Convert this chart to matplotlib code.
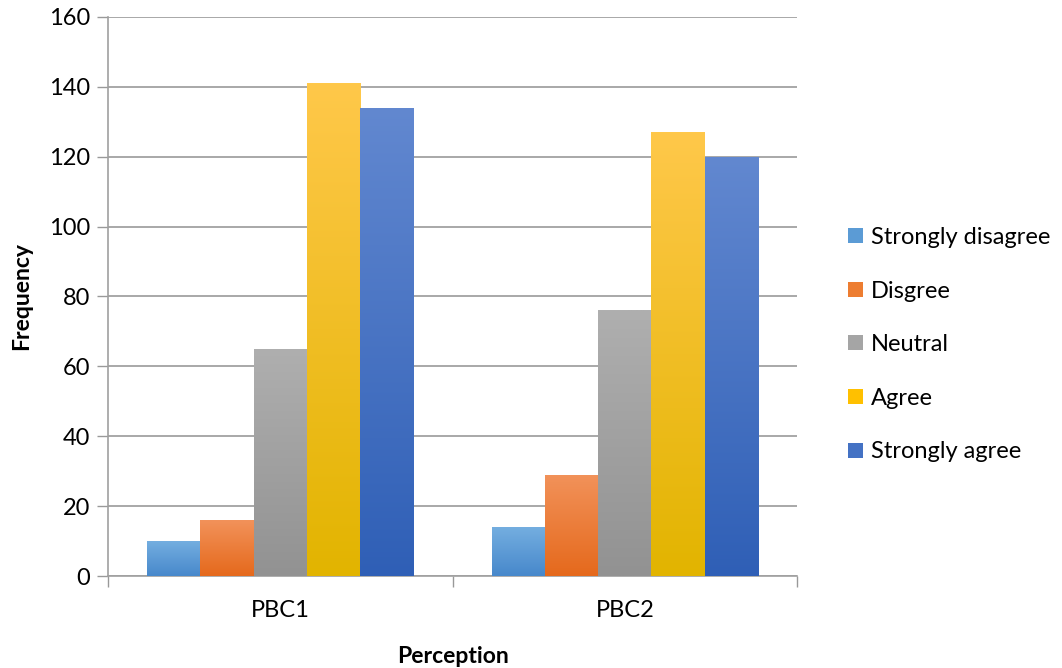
import numpy as np
import matplotlib.pyplot as plt
from matplotlib.colors import LinearSegmentedColormap
from matplotlib.patches import Patch

plt.rcParams['font.family'] = ['Lato', 'DejaVu Sans']

# survey responses per item
items = ['PBC1', 'PBC2']
responses = ['Strongly disagree', 'Disgree', 'Neutral', 'Agree', 'Strongly agree']
strongly_disagree = [10, 14]
disagree = [16, 29]
neutral = [65, 76]
agree = [141, 127]
strongly_agree = [134, 120]
counts = [strongly_disagree, disagree, neutral, agree, strongly_agree]

# (top colour, bottom colour) for each response, legend swatch colour
shades = [('#74aee0', '#4788cb'),
          ('#f2925a', '#e5691c'),
          ('#afafaf', '#929292'),
          ('#ffc84a', '#e2b400'),
          ('#6288d0', '#2f5fb6')]
swatch = ['#5b9bd5', '#ed7d31', '#a5a5a5', '#ffc000', '#4472c4']

fig = plt.figure(figsize=(10.62, 6.68), dpi=100)
ax = fig.add_axes([0.1017, 0.1377, 0.6488, 0.8369])

x = np.arange(len(items))
group = 0.773
width = group / len(responses)

grad = np.linspace(1, 0, 256).reshape(-1, 1)
for i, (name, vals) in enumerate(zip(responses, counts)):
    pos = x - group / 2 + width * (i + 0.5)
    bars = ax.bar(pos, vals, width, color='none', edgecolor='none', zorder=3)
    cmap = LinearSegmentedColormap.from_list(name, [shades[i][1], shades[i][0]])
    for b in bars:
        x0, w, h = b.get_x(), b.get_width(), b.get_height()
        im = ax.imshow(grad, cmap=cmap, aspect='auto', zorder=3,
                       extent=[x0, x0 + w, 0, h], vmin=0, vmax=1)
        im.set_clip_path(b)

ax.set_xlim(-0.5, len(items) - 0.5)
ax.set_ylim(0, 160)
ax.set_yticks(range(0, 161, 20))
ax.set_xticks(x)
ax.set_xticklabels(items)
ax.set_xticks([-0.5, 0.5, 1.5], minor=True)
ax.tick_params(axis='x', which='major', length=0, pad=17, labelsize=17)
ax.tick_params(axis='x', which='minor', length=8, color='#999999', width=1)
ax.tick_params(axis='y', length=8, color='#999999', width=1, labelsize=17, pad=5)
ax.grid(axis='y', color='#9a9a9a', linewidth=1.2, zorder=0)

for side in ['top', 'right']:
    ax.spines[side].set_visible(False)
for side in ['left', 'bottom']:
    ax.spines[side].set_color('#a0a0a0')
    ax.spines[side].set_linewidth(1.2)

ax.set_ylabel('Frequency', fontsize=16.5, fontweight='bold', labelpad=12)
ax.set_xlabel('Perception', fontsize=16.5, fontweight='bold', labelpad=18)

handles = [Patch(facecolor=c, edgecolor='none') for c in swatch]
fig.legend(handles, responses, loc='center left', bbox_to_anchor=(0.79, 0.484),
           frameon=False, fontsize=17, handlelength=0.6, handleheight=0.6,
           handletextpad=0.35, labelspacing=1.38, borderaxespad=0)

fig.savefig('out.png', dpi=100)
